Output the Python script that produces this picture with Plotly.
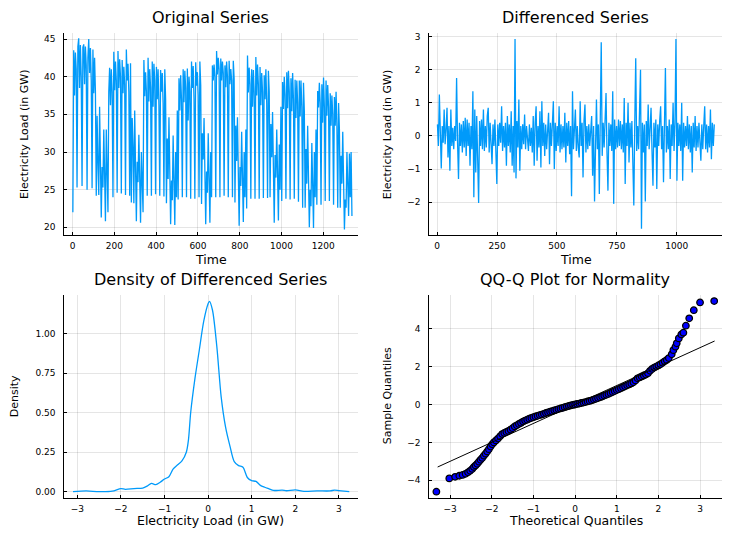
import plotly.graph_objects as go

# ---------------- data ----------------
# Original series, sampled every 4 time steps (t = 1, 5, 9, ...)
orig_load = [
    22.0,
    43.5, 37.5, 43.2, 41.0, 25.3, 44.0, 45.1, 38.5, 44.2, 40.0, 25.5, 43.9, 44.3, 39.0,
    44.0, 41.5, 25.0, 42.5, 45.0, 40.5, 43.8, 39.5, 25.2, 43.6, 37.8, 42.5, 38.0, 24.2,
    34.8, 28.5, 24.3, 36.0, 30.0, 21.3, 28.0, 25.3, 33.0, 27.0, 20.8, 33.0, 29.0, 22.0, 38.0,
    41.2, 36.2, 41.0, 38.0, 24.0, 43.3, 38.2, 42.0, 39.5, 24.6, 43.4, 38.5, 42.3, 40.0,
    24.5, 42.2, 37.8, 41.3, 39.0, 24.3, 43.6, 39.5, 41.7, 38.0, 24.2, 41.8, 23.3,
    34.5, 30.8, 23.2, 35.5, 28.0, 20.8, 28.7, 26.0, 32.3, 27.5, 20.6, 30.0, 25.0, 22.0,
    42.2, 37.4, 40.6, 38.0, 24.2, 42.5, 36.7, 41.0, 38.5, 24.2, 42.0, 36.0, 41.7, 39.5,
    24.4, 41.3, 37.0, 41.0, 36.2, 24.2, 40.9, 38.0, 40.5, 36.5, 24.1, 41.0, 37.0, 23.2,
    31.8, 26.4, 34.6, 28.0, 20.4, 26.2, 23.6, 32.2, 26.0, 20.3, 30.0, 24.0, 35.5, 23.7,
    39.8, 35.5, 40.2, 37.0, 24.0, 41.0, 36.6, 40.8, 38.5, 24.0, 41.1, 34.2, 40.0, 38.0,
    23.8, 42.0, 38.5, 41.4, 37.0, 23.8, 41.9, 38.8, 40.6, 37.5, 24.0, 42.0, 38.9, 23.1,
    32.5, 29.0, 34.5, 28.9, 20.4, 27.4, 24.6, 32.5, 26.5, 20.6, 30.0, 24.0,
    41.5, 39.5, 41.6, 40.0, 24.0, 43.4, 40.3, 42.5, 41.0, 24.0, 42.4, 39.5, 42.0, 40.5,
    24.2, 41.5, 38.6, 42.0, 40.0, 24.0, 42.1, 39.0, 41.0, 39.5, 24.0, 42.1, 39.8, 23.3,
    33.5, 28.8, 34.6, 29.0, 20.2, 28.0, 25.5, 32.7, 27.0, 20.7, 30.0, 24.0, 33.0, 22.5,
    42.8, 37.9, 41.2, 39.0, 23.8, 41.0, 36.0, 40.9, 38.0, 23.8, 42.6, 37.5, 41.6, 39.0,
    23.8, 41.3, 36.2, 40.5, 38.0, 23.9, 40.2, 37.0, 41.0, 36.5, 23.9, 40.8, 38.0, 24.0,
    33.7, 29.3, 35.3, 30.0, 20.6, 29.6, 26.6, 33.0, 27.5, 20.9, 31.0, 25.0, 36.0, 23.5,
    39.3, 35.7, 40.0, 37.6, 23.8, 40.6, 35.8, 40.8, 38.0, 23.7, 39.8, 35.4, 40.5, 37.0,
    23.8, 39.6, 34.5, 39.5, 36.5, 23.4, 39.5, 34.7, 39.5, 36.0, 22.6, 39.2, 35.5, 22.6,
    30.4, 25.8, 33.5, 27.5, 20.0, 25.0, 22.8, 31.2, 25.5, 19.9, 30.0, 24.0, 33.0, 23.0,
    38.1, 35.9, 39.2, 36.5, 23.0, 39.0, 33.9, 39.9, 36.0, 23.5, 39.5, 34.8, 38.9, 36.0,
    23.5, 37.8, 33.5, 37.5, 35.0, 23.0, 37.3, 33.5, 38.0, 33.4, 22.6, 36.5, 33.0, 22.6,
    29.5, 25.8, 32.7, 27.0, 19.7, 23.7, 22.6, 30.0, 25.5, 21.5, 29.8, 24.0, 30.0, 21.5,
]
orig_step = 4
orig_time = [1 + orig_step * i for i in range(len(orig_load))]

# Differenced series, sampled every 4 time steps
diff_load = [
    0.35, -0.30, 1.25, -0.35, -0.98, 0.30, -0.20, 0.80, -0.25, 0.20,
    0.85, -0.65, 0.30, -1.05, 0.80, -0.30, 0.25, -0.40, 0.30, -0.15,
    1.75, -0.20, -1.30, 0.40, -0.30, 0.35, -0.50, 0.45, -0.35, 0.55,
    -0.60, 0.50, -0.30, 0.40, -0.90, 0.30, -0.40, 1.35, -1.85, 0.80,
    -1.10, 0.60, -0.50, -2.02, 0.45, -0.30, 0.50, -0.40, 0.80, -0.45,
    0.30, -0.35, 0.60, 0.85, -0.50, 0.40, -0.25, -0.85, 0.35, -0.30,
    0.50, -0.40, -1.45, 0.35, -0.30, 0.40, -0.20, 0.90, -0.45, 0.30,
    -0.35, 0.40, -0.90, 0.60, -0.30, 0.35, -0.50, 0.75, -0.90, 0.30,
    -1.10, 2.93, -1.28, 0.45, -0.35, 1.10, -1.05, 0.30, -0.40, 0.35,
    -0.25, 0.65, -0.40, 0.30, -0.20, -0.45, 0.35, -0.30, 0.25, -0.50,
    0.60, -0.90, 0.40, 0.90, -0.75, 0.30, -0.35, 0.75, -0.95, 1.05,
    -0.30, 0.40, -0.60, 0.35, -0.40, 0.30, 0.70, -0.85, 0.40, -0.30,
    0.35, 1.05, -1.00, 0.40, -0.45, 0.30, -0.30, 0.90, -0.50, 0.35,
    -0.40, 0.30, -0.35, 0.70, -0.80, 0.40, -0.30, 0.45, -0.55, 0.30,
    -1.82, 1.35, -0.40, 0.50, 0.80, -0.45, 0.30, -0.35, -0.65, 1.05,
    -0.30, 0.40, -1.25, 0.45, 0.95, -0.50, 0.30, -0.40, 0.35, -0.30,
    0.40, 0.60, -1.20, 0.30, -1.98, 0.50, 1.10, -0.40, 0.35, -1.75,
    0.50, 2.83, -0.60, 0.40, -0.35, 0.45, 1.30, -0.50, -1.65, 0.40,
    -0.30, 0.35, -0.45, 1.35, -2.05, 0.50, -0.40, 0.30, -0.35, 0.50,
    -0.30, 0.45, -0.40, 0.35, -0.50, 1.15, -1.45, 0.40, -0.30, 1.00,
    -0.80, 0.40, -0.35, 0.45, -0.50, -2.10, 0.40, 2.35, -0.45, 0.30,
    -0.40, 0.50, 2.00, -2.80, 0.40, -0.50, 0.35, -1.98, 0.45, -0.30,
    0.95, -0.40, 0.30, 0.85, -0.45, -1.50, 0.40, -0.35, 0.50, -1.60,
    0.35, -0.30, 0.45, 0.90, -0.40, 0.30, -1.40, 0.45, 2.05, -0.50,
    0.30, -0.40, 0.50, -1.30, 0.35, -0.30, 1.00, -0.45, 0.40, 2.93,
    -1.35, 0.40, -0.30, 0.35, -0.45, 1.00, -1.35, 0.40, -0.35, 0.30,
    -0.30, 0.60, -0.40, 0.35, -0.50, 0.30, -1.10, 0.40, -0.35, 0.60,
    -0.45, 0.30, -0.35, 0.40, -0.30, -0.75, 0.35, -0.40, 0.30, 0.90,
    -0.40, 0.35, -0.50, 0.30, -0.35, 0.80, -0.70, 0.40, -0.30, 0.35,
]
diff_step = 4
diff_time = [1 + diff_step * i for i in range(len(diff_load))]

# Kernel density of the differenced series
dens_x = [-3.1, -2.8, -2.5, -2.2, -2.0, -1.9, -1.7, -1.5, -1.4, -1.3, -1.2, -1.1,
          -1.0, -0.9, -0.8, -0.7, -0.6, -0.5, -0.45, -0.4, -0.3, -0.2, -0.1, 0.0,
          0.03, 0.1, 0.2, 0.3, 0.4, 0.5, 0.6, 0.7, 0.8, 0.9, 1.0, 1.1, 1.2, 1.3,
          1.4, 1.5, 1.7, 1.8, 2.0, 2.2, 2.5, 2.8, 2.9, 3.0, 3.24]
dens_y = [0.0, 0.005, 0.0, 0.003, 0.02, 0.015, 0.02, 0.023, 0.035, 0.052, 0.045, 0.06,
          0.08, 0.095, 0.145, 0.17, 0.195, 0.25, 0.33, 0.5, 0.72, 0.9, 1.08, 1.19,
          1.205, 1.15, 0.92, 0.6, 0.41, 0.29, 0.19, 0.165, 0.155, 0.09, 0.07, 0.065, 0.04, 0.028,
          0.018, 0.008, 0.01, 0.006, 0.012, 0.002, 0.005, 0.005, 0.01, 0.007, 0.0]

# QQ plot: theoretical vs sample quantiles
theo_q = [-3.33, -3.02, -2.88, -2.78, -2.70, -2.63, -2.57, -2.52, -2.47, -2.43, -2.39,
          -2.35, -2.31, -2.27, -2.23, -2.19, -2.15, -2.11, -2.07, -2.03, -1.99, -1.95,
          -1.90, -1.85, -1.80, -1.75, -1.70, -1.65, -1.60, -1.55, -1.50, -1.45, -1.40,
          -1.35, -1.30, -1.25, -1.20, -1.15, -1.10, -1.05, -1.00, -0.95, -0.90, -0.85,
          -0.80, -0.75, -0.70, -0.65, -0.60, -0.55, -0.50, -0.45, -0.40, -0.35, -0.30,
          -0.25, -0.20, -0.15, -0.10, -0.05, 0.00, 0.05, 0.10, 0.15, 0.20, 0.25, 0.30,
          0.35, 0.40, 0.45, 0.50, 0.55, 0.60, 0.65, 0.70, 0.75, 0.80, 0.85, 0.90, 0.95,
          1.00, 1.05, 1.10, 1.15, 1.20, 1.25, 1.30, 1.35, 1.40, 1.45, 1.50, 1.55, 1.60,
          1.65, 1.70, 1.75, 1.80, 1.85, 1.90, 1.95, 2.00, 2.05, 2.10, 2.15, 2.20, 2.25,
          2.32, 2.36, 2.41, 2.44, 2.49, 2.55, 2.60, 2.66, 2.74, 2.85, 3.00, 3.34]
sample_q = [-4.60, -3.90, -3.82, -3.76, -3.72, -3.66, -3.58, -3.50, -3.40, -3.30, -3.22,
            -3.13, -3.02, -2.92, -2.82, -2.70, -2.60, -2.48, -2.36, -2.22, -2.10, -2.00,
            -1.90, -1.80, -1.68, -1.56, -1.50, -1.45, -1.40, -1.33, -1.25, -1.16, -1.10,
            -1.03, -0.97, -0.90, -0.85, -0.80, -0.75, -0.71, -0.67, -0.63, -0.60, -0.56,
            -0.53, -0.49, -0.45, -0.42, -0.38, -0.35, -0.31, -0.28, -0.24, -0.21, -0.18,
            -0.14, -0.11, -0.08, -0.05, -0.02, 0.00, 0.03, 0.05, 0.08, 0.10, 0.13, 0.16,
            0.19, 0.22, 0.26, 0.30, 0.34, 0.38, 0.42, 0.47, 0.51, 0.56, 0.61, 0.66, 0.71,
            0.76, 0.81, 0.86, 0.91, 0.96, 1.01, 1.06, 1.11, 1.17, 1.27, 1.38, 1.43, 1.48,
            1.53, 1.58, 1.65, 1.78, 1.88, 1.95, 2.00, 2.06, 2.12, 2.20, 2.28, 2.35, 2.45,
            2.65, 2.87, 3.05, 3.23, 3.49, 3.70, 3.79, 4.16, 4.55, 4.98, 5.39, 5.46]
ref_line_x = [-3.30, 3.35]
ref_line_y = [-3.30, 3.35]

# tick values
tl_xticks = [0, 200, 400, 600, 800, 1000, 1200]
tl_yticks = [20, 25, 30, 35, 40, 45]
tr_xticks = [0, 250, 500, 750, 1000]
tr_yticks = [-2, -1, 0, 1, 2, 3]
bl_xticks = [-3, -2, -1, 0, 1, 2, 3]
bl_yticks = [0.0, 0.25, 0.5, 0.75, 1.0]
bl_ytext = ["0.00", "0.25", "0.50", "0.75", "1.00"]
br_xticks = [-3, -2, -1, 0, 1, 2, 3]
br_yticks = [-4, -2, 0, 2, 4]

# ---------------- figure ----------------
# The page body has an 8px margin, so the figure starts at (8, 8) in the window.
OFF = 8
W, H = 722, 520
BLUE = "#009AFA"
FONT = "DejaVu Sans"

def px(x):
    return (x - OFF) / W

def py(y):
    return 1 - (y - OFF) / H

fig = go.Figure()
fig.add_trace(go.Scatter(x=orig_time, y=orig_load, mode="lines",
                         line=dict(color=BLUE, width=1.3), xaxis="x", yaxis="y"))
fig.add_trace(go.Scatter(x=diff_time, y=diff_load, mode="lines",
                         line=dict(color=BLUE, width=1.3), xaxis="x2", yaxis="y2"))
fig.add_trace(go.Scatter(x=dens_x, y=dens_y, mode="lines",
                         line=dict(color=BLUE, width=1.3, shape="spline", smoothing=0.8),
                         xaxis="x3", yaxis="y3"))
fig.add_trace(go.Scatter(x=theo_q, y=sample_q, mode="markers",
                         marker=dict(color="#0000FF", size=6.5,
                                     line=dict(color="black", width=1.3)),
                         xaxis="x4", yaxis="y4"))
fig.add_trace(go.Scatter(x=ref_line_x, y=ref_line_y, mode="lines",
                         line=dict(color="black", width=1), xaxis="x4", yaxis="y4"))

def ax(domain, rng, tickvals, ticktext=None, anchor=None, is_y=False):
    d = dict(domain=domain, range=rng, tickvals=tickvals, showline=True,
             linecolor="black", linewidth=1, showgrid=True,
             gridcolor="rgba(0,0,0,0.1)", gridwidth=0.6, zeroline=False,
             ticks="inside", ticklen=3, tickcolor="black", tickwidth=0.8,
             tickfont=dict(family=FONT, size=9, color="black"),
             anchor=anchor, fixedrange=True,
             ticklabelstandoff=6 if is_y else 2)
    if ticktext is not None:
        d["ticktext"] = ticktext
    return d

left = [px(64.3), px(358)]
right = [px(429.3), px(721.7)]
top = [py(235), py(33)]
bottom = [py(497.7), py(295)]

fig.update_layout(
    width=W, height=H, margin=dict(l=0, r=0, t=0, b=0),
    paper_bgcolor="white", plot_bgcolor="white", showlegend=False,
    font=dict(family=FONT, color="black"),
    xaxis=ax(left, [-40, 1366], tl_xticks, anchor="y"),
    yaxis=ax(top, [18.98, 45.8], tl_yticks, anchor="x", is_y=True),
    xaxis2=ax(right, [-33, 1188], tr_xticks, anchor="y2"),
    yaxis2=ax(top, [-2.99, 3.11], tr_yticks, anchor="x2", is_y=True),
    xaxis3=ax(left, [-3.30, 3.44], bl_xticks, anchor="y3"),
    yaxis3=ax(bottom, [-0.038, 1.245], bl_yticks, bl_ytext, anchor="x3", is_y=True),
    xaxis4=ax(right, [-3.50, 3.52], br_xticks, anchor="y4"),
    yaxis4=ax(bottom, [-4.92, 5.78], br_yticks, anchor="x4", is_y=True),
)

def label(text, x, y, size, angle=0):
    fig.add_annotation(text=text, x=px(x), y=py(y), xref="paper", yref="paper",
                       showarrow=False, xanchor="center", yanchor="middle",
                       textangle=angle, borderpad=0,
                       font=dict(family=FONT, size=size, color="black"))

# titles
label("Original Series", 211, 17.5, 16)
label("Differenced Series", 575, 17.5, 16)
label("Density of Differenced Series", 211, 279, 16)
label("QQ-Q Plot for Normality", 575, 279, 16)
# x axis labels
label("Time", 211, 259.5, 12.5)
label("Time", 575.5, 259.5, 12.5)
label("Electricity Load (in GW)", 211, 520.5, 12.5)
label("Theoretical Quantiles", 575.5, 520.5, 12.5)
# y axis labels
label("Electricity Load (in GW)", 24, 134, 11, -90)
label("Electricity Load (in GW)", 387.3, 134, 11, -90)
label("Density", 14.7, 396.5, 11, -90)
label("Sample Quantiles", 387.3, 396, 11, -90)

fig.write_html("out.html")
